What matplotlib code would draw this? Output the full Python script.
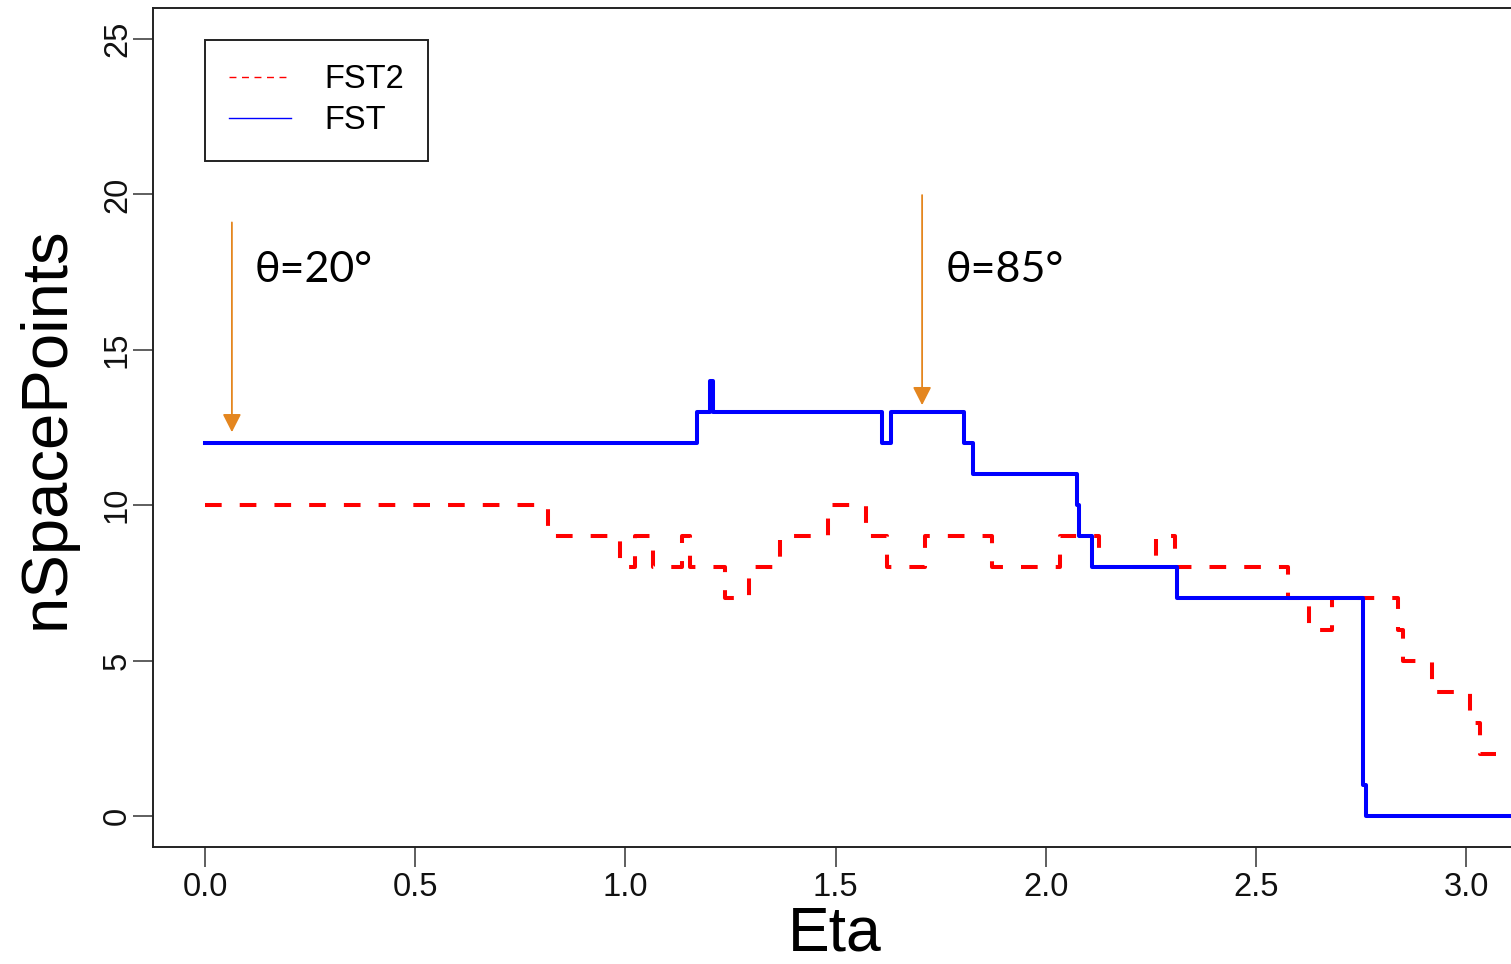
import numpy as np
import matplotlib.pyplot as plt
from matplotlib.lines import Line2D

plt.rcParams['font.family'] = ['Liberation Sans', 'DejaVu Sans']
plt.rcParams['lines.scale_dashes'] = False

# FST (blue, solid) step breakpoints
fst_eta = [0.0, 1.170, 1.202, 1.209, 1.610, 1.632, 1.806, 1.828, 2.074,
           2.080, 2.111, 2.313, 2.756, 2.763, 3.15]
fst_n = [12, 13, 14, 13, 12, 13, 12, 11, 10, 9, 8, 7, 1, 0, 0]

# FST2 (red, dashed) step breakpoints
fst2_eta = [0.0, 0.816, 0.987, 1.023, 1.066, 1.134, 1.155, 1.237, 1.295,
            1.368, 1.483, 1.572, 1.623, 1.713, 1.872, 2.033, 2.126, 2.263,
            2.308, 2.577, 2.627, 2.680, 2.839, 2.851, 2.918, 3.010, 3.034, 3.15]
fst2_n = [10, 9, 8, 9, 8, 9, 8, 7, 8, 9, 10, 9, 8, 9, 8, 9, 8, 9, 8, 7, 6,
          7, 6, 5, 4, 3, 2, 2]

# annotation arrows: (eta, y_start, y_end, label)
arrows = [(0.064, 19.1, 12.35, 'θ=20°'), (1.706, 19.98, 13.22, 'θ=85°')]

xticks = [0.0, 0.5, 1.0, 1.5, 2.0, 2.5, 3.0]
yticks = [0, 5, 10, 15, 20, 25]

fig = plt.figure(figsize=(15.11, 9.64), dpi=100)
ax = fig.add_axes([153/1511, 1 - 846.7/964, 1 - 153/1511, (846.7 - 8.3)/964])

ax.step(fst2_eta, fst2_n, where='post', color='red', lw=2.9,
        dashes=(12, 13), zorder=2)
ax.step(fst_eta, fst_n, where='post', color='blue', lw=2.9, zorder=3)

orange = '#E4861F'
for x, y0, y1, lab in arrows:
    ax.annotate('', xy=(x, y1), xytext=(x, y0),
                arrowprops=dict(arrowstyle='-|>,head_length=0.55,head_width=0.28',
                                color=orange, lw=1.3, shrinkA=0, shrinkB=0,
                                mutation_scale=20))
    ax.text(x + 0.055, 17.57, lab, fontsize=31, va='center', ha='left',
            family=['Lato', 'DejaVu Serif'], color='black')

ax.set_xlim(-0.1237, 3.107)
ax.set_ylim(-0.988, 25.99)
ax.set_xticks(xticks)
ax.set_xticklabels([f'{t:.1f}' for t in xticks])
ax.set_yticks(yticks)
ax.set_yticklabels([str(t) for t in yticks], rotation=90, va='center')

for s in ['left', 'bottom', 'top']:
    ax.spines[s].set_linewidth(1.4)
    ax.spines[s].set_color('#222222')
ax.spines['right'].set_visible(False)
ax.tick_params(axis='both', length=14.4, width=1.1, color='#333333',
               labelsize=23.5, labelcolor='#111111')
ax.tick_params(axis='x', pad=4)
ax.tick_params(axis='y', pad=0)

ax.set_xlabel('Eta', fontsize=45)
ax.xaxis.label.set(va='bottom')
ax.xaxis.set_label_coords(0.502, (846.7 - 963)/838.4)
ax.set_ylabel('nSpacePoints', fontsize=47)
ax.yaxis.label.set(va='center', ha='center')
ax.yaxis.set_label_coords(-0.078, 0.5)

handles = [Line2D([], [], color='red', lw=1.0, dashes=(5, 4)),
           Line2D([], [], color='blue', lw=1.0)]
leg = ax.legend(handles, ['FST2', 'FST'], loc='upper left',
                bbox_to_anchor=((205 - 153)/1358, (846.7 - 40)/838.4),
                borderaxespad=0, fontsize=23.5, fancybox=False,
                frameon=True, edgecolor='#222222', framealpha=1,
                handlelength=1.9, handletextpad=1.0, borderpad=0.75,
                labelspacing=0.3)
leg.get_frame().set_linewidth(1.4)

fig.savefig('out.png', dpi=100)
